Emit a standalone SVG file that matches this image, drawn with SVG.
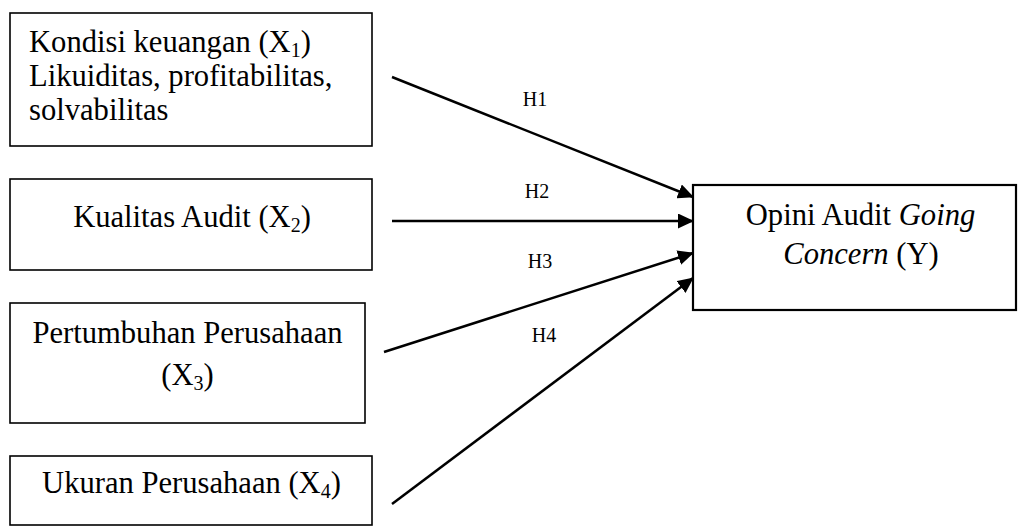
<svg xmlns="http://www.w3.org/2000/svg" width="1018" height="527" viewBox="0 0 1018 527">
<style>
.box{fill:#fff;stroke:#000;stroke-width:1.6}
.tbox{fill:#fff;stroke:#000;stroke-width:2.2}
.t{font-family:"Liberation Serif","Times New Roman",serif;font-size:30.6px;fill:#000}
.h{font-family:"Liberation Serif","Times New Roman",serif;font-size:20px;fill:#000;text-anchor:middle}
.c{text-anchor:middle}
.sub{font-size:20px}
.edge{stroke:#000;stroke-width:2.5;fill:none;marker-end:url(#ah)}
</style>
<defs>
<marker id="ah" markerUnits="userSpaceOnUse" markerWidth="16" markerHeight="15" refX="15" refY="7.5" orient="auto">
<path d="M0,0 L16,7.5 L0,15 z" fill="#000"/>
</marker>
</defs>
<rect width="1018" height="527" fill="#fff"/>
<g id="x1">
<rect class="box" x="10" y="13" width="362" height="133"/>
<text class="t" x="29" y="52">Kondisi keuangan (X<tspan class="sub" dy="5">1</tspan><tspan dy="-5">)</tspan></text>
<text class="t" x="29" y="86">Likuiditas, profitabilitas,</text>
<text class="t" x="29" y="120">solvabilitas</text>
</g>
<g id="x2">
<rect class="box" x="10" y="179" width="362" height="91"/>
<text class="t c" x="192" y="227">Kualitas Audit (X<tspan class="sub" dy="5">2</tspan><tspan dy="-5">)</tspan></text>
</g>
<g id="x3">
<rect class="box" x="10" y="303" width="355" height="120"/>
<text class="t c" x="187.5" y="343">Pertumbuhan Perusahaan</text>
<text class="t c" x="187.5" y="385">(X<tspan class="sub" dy="5">3</tspan><tspan dy="-5">)</tspan></text>
</g>
<g id="x4">
<rect class="box" x="10" y="456" width="362" height="69"/>
<text class="t c" x="191.5" y="493">Ukuran Perusahaan (X<tspan class="sub" dy="5">4</tspan><tspan dy="-5">)</tspan></text>
</g>
<g id="y">
<rect class="tbox" x="693" y="185" width="323" height="125"/>
<text class="t c" x="860.5" y="225">Opini Audit <tspan font-style="italic">Going</tspan></text>
<text class="t c" x="861" y="264"><tspan font-style="italic">Concern</tspan> (Y)</text>
</g>
<g id="connectors">
<line class="edge" x1="392" y1="77" x2="693" y2="197"/>
<line class="edge" x1="392" y1="221" x2="693" y2="221"/>
<line class="edge" x1="384" y1="352" x2="693" y2="253"/>
<line class="edge" x1="392" y1="504" x2="693" y2="278"/>
<text class="h" x="535" y="106">H1</text>
<text class="h" x="537" y="198">H2</text>
<text class="h" x="540" y="268">H3</text>
<text class="h" x="544" y="342">H4</text>
</g>
</svg>
